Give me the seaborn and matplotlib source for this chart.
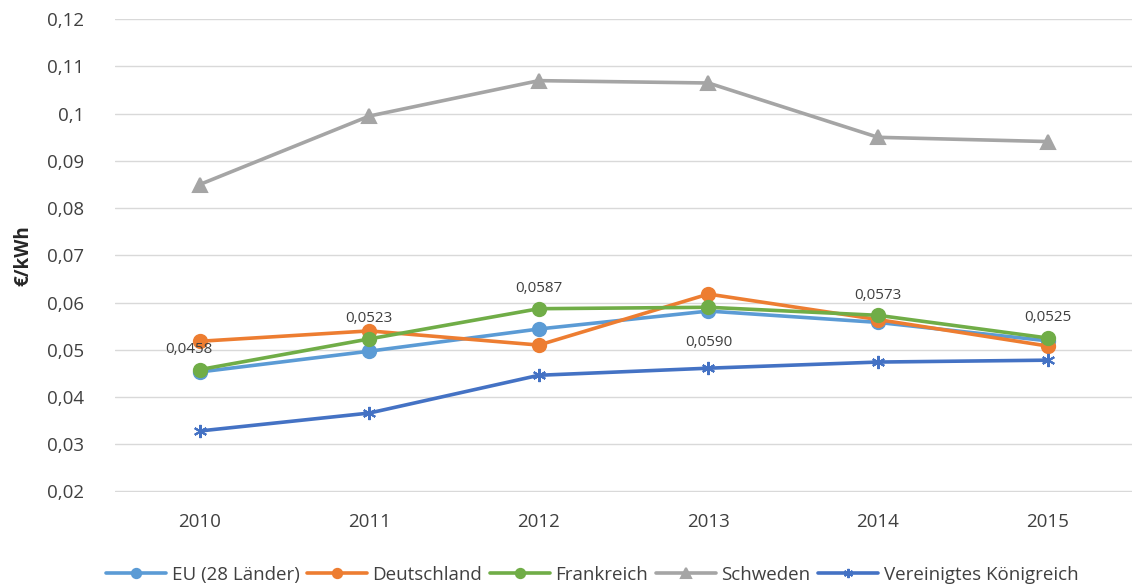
import seaborn as sns
import matplotlib.pyplot as plt
import pandas as pd

# values (€/kWh)
years = [2010, 2011, 2012, 2013, 2014, 2015]
eu = [0.0453, 0.0497, 0.0544, 0.0582, 0.0558, 0.0519]
deutschland = [0.0518, 0.0540, 0.0510, 0.0618, 0.0564, 0.0508]
frankreich = [0.0458, 0.0523, 0.0587, 0.0590, 0.0573, 0.0525]
schweden = [0.0850, 0.0995, 0.1070, 0.1065, 0.0950, 0.0941]
uk = [0.0328, 0.0366, 0.0446, 0.0461, 0.0474, 0.0478]
series_names = ["EU (28 Länder)", "Deutschland", "Frankreich", "Schweden", "Vereinigtes Königreich"]
y_ticks = [0.02, 0.03, 0.04, 0.05, 0.06, 0.07, 0.08, 0.09, 0.10, 0.11, 0.12]

rows = []
for name, vals in zip(series_names, [eu, deutschland, frankreich, schweden, uk]):
    for yr, v in zip(years, vals):
        rows.append({"Jahr": str(yr), "Wert": v, "Land": name})
df = pd.DataFrame(rows)

sns.set_style("white")
plt.rcParams["font.family"] = ["Open Sans", "DejaVu Sans"]

colors = {"EU (28 Länder)": "#5B9BD5", "Deutschland": "#ED7D31", "Frankreich": "#70AD47",
          "Schweden": "#A5A5A5", "Vereinigtes Königreich": "#4472C4"}
markers = {"EU (28 Länder)": "o", "Deutschland": "o", "Frankreich": "o",
           "Schweden": "^", "Vereinigtes Königreich": (6, 2, 0)}

fig = plt.figure(figsize=(11.38, 5.87), dpi=100)
ax = fig.add_axes([0.101, 0.162, 0.894, 0.806])

# one call per series so filled and line-art markers can be mixed
for name in series_names:
    sub = df[df["Land"] == name]
    sns.lineplot(data=sub, x="Jahr", y="Wert", color=colors[name], marker=markers[name],
                 markersize=9.5, markeredgewidth=1.5, markeredgecolor=colors[name],
                 linewidth=2.6, label=name, ax=ax, sort=False)

# data labels for Frankreich
offsets = [(-8, 9), (0, 9), (0, 9), (0, -20), (0, 9), (0, 9)]
for i, (v, off) in enumerate(zip(frankreich, offsets)):
    ax.annotate(f"{v:.4f}".replace(".", ","), (i, v), xytext=off, textcoords="offset points",
                ha="center", va="bottom" if off[1] > 0 else "top", fontsize=11, color="#404040")

ax.set_ylim(0.0199, 0.1201)
ax.set_xlim(-0.5, 5.5)
ax.set_yticks(y_ticks)
ax.set_yticklabels([f"{round(t, 2):g}".replace(".", ",") for t in y_ticks])
ax.grid(axis="y", color="#D9D9D9", linewidth=1)
ax.grid(axis="x", visible=False)
for s in ax.spines.values():
    s.set_visible(False)
ax.tick_params(axis="both", length=0, labelsize=13.5, colors="#404040")
ax.tick_params(axis="x", pad=15)
ax.tick_params(axis="y", pad=22)
ax.set_xlabel("")
ax.set_ylabel("€/kWh", fontsize=13.5, fontweight="bold", color="#262626", labelpad=10)

h, l = ax.get_legend_handles_labels()
ax.legend(h, l, loc="lower center", bbox_to_anchor=(0.469, -0.23), ncol=5, frameon=False,
          fontsize=13.5, handlelength=3.2, handletextpad=0.3, columnspacing=0.4, markerscale=0.7,
          labelcolor="#404040")

fig.savefig("out.png", dpi=100)
